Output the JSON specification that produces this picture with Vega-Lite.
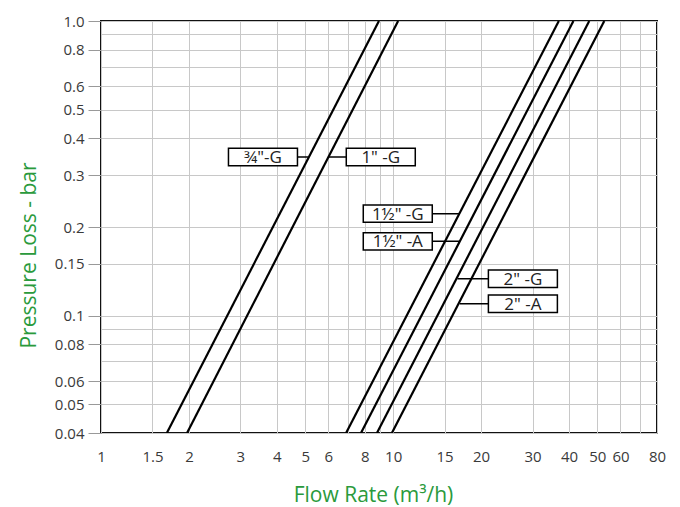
{
  "$schema": "https://vega.github.io/schema/vega-lite/v6.json",
  "autosize": "none",
  "width": 556,
  "height": 412,
  "padding": {"left": 101, "top": 21, "right": 23, "bottom": 74},
  "background": "white",
  "config": {
    "view": {"stroke": "#111111", "strokeWidth": 2},
    "font": "Open Sans"
  },
  "datasets": {
    "curves": [
      {"series": "3/4-G", "flow": 1.68, "loss": 0.04},
      {"series": "3/4-G", "flow": 8.94, "loss": 1.0},
      {"series": "1-G", "flow": 1.97, "loss": 0.04},
      {"series": "1-G", "flow": 10.4, "loss": 1.0},
      {"series": "1.5-G", "flow": 6.9, "loss": 0.04},
      {"series": "1.5-G", "flow": 36.9, "loss": 1.0},
      {"series": "1.5-A", "flow": 7.76, "loss": 0.04},
      {"series": "1.5-A", "flow": 41.4, "loss": 1.0},
      {"series": "2-G", "flow": 8.8, "loss": 0.04},
      {"series": "2-G", "flow": 46.9, "loss": 1.0},
      {"series": "2-A", "flow": 9.9, "loss": 0.04},
      {"series": "2-A", "flow": 52.8, "loss": 1.0}
    ],
    "labels": [
      {"label": "¾\"-G", "flow": 3.584, "loss": 0.3455, "lineFlow": 5.11},
      {"label": "1\" -G", "flow": 9.07, "loss": 0.3455, "lineFlow": 5.99},
      {"label": "1½\" -G", "flow": 10.37, "loss": 0.222, "lineFlow": 16.93},
      {"label": "1½\" -A", "flow": 10.37, "loss": 0.1788, "lineFlow": 16.9},
      {"label": "2\" -G", "flow": 27.8, "loss": 0.1335, "lineFlow": 16.6},
      {"label": "2\" -A", "flow": 27.8, "loss": 0.1098, "lineFlow": 16.9}
    ]
  },
  "layer": [
    {
      "data": {"name": "curves"},
      "mark": {"type": "line", "color": "#000000", "strokeWidth": 2.2, "clip": true},
      "encoding": {
        "x": {
          "field": "flow",
          "type": "quantitative",
          "scale": {"type": "log", "domain": [1, 80], "nice": false, "zero": false},
          "axis": {
            "title": "Flow Rate (m³/h)",
            "values": [1, 1.5, 2, 3, 4, 5, 6, 7, 8, 9, 10, 15, 20, 30, 40, 50, 60, 70, 80],
            "labelExpr": "indexof([7, 9, 70], datum.value) >= 0 ? '' : datum.value + ''",
            "labelFlush": false,
            "labelOverlap": false,
            "labelFontSize": 15,
            "labelColor": "#3a3a3a",
            "labelPadding": 16,
            "ticks": false,
            "domain": false,
            "grid": true,
            "gridColor": "#c8c8c8",
            "gridWidth": 1,
            "titleFontSize": 21,
            "titleFontWeight": "normal",
            "titleColor": "#2a9a3c",
            "titleX": 272,
            "titleY": 68,
            "titleBaseline": "alphabetic"
          }
        },
        "y": {
          "field": "loss",
          "type": "quantitative",
          "scale": {"type": "log", "domain": [0.04, 1], "nice": false, "zero": false},
          "axis": {
            "title": "Pressure Loss - bar",
            "values": [0.04, 0.05, 0.06, 0.07, 0.08, 0.09, 0.1, 0.15, 0.2, 0.3, 0.4, 0.5, 0.6, 0.7, 0.8, 0.9, 1],
            "labelExpr": "datum.value == 1 ? '1.0' : (indexof([0.07, 0.09, 0.7, 0.9], datum.value) >= 0 ? '' : datum.value + '')",
            "labelOverlap": false,
            "labelFontSize": 15,
            "labelColor": "#3a3a3a",
            "labelPadding": 4,
            "tickSize": 13,
            "tickColor": "#999999",
            "tickOpacity": {"condition": {"test": "indexof([0.07, 0.09, 0.7, 0.9], datum.value) >= 0", "value": 0}, "value": 1},
            "domain": false,
            "grid": true,
            "gridColor": "#c8c8c8",
            "gridWidth": 1,
            "titleFontSize": 21,
            "titleFontWeight": "normal",
            "titleColor": "#2a9a3c",
            "titleX": -66,
            "titleY": 234,
            "titleBaseline": "alphabetic"
          }
        },
        "detail": {"field": "series"}
      }
    },
    {
      "data": {"name": "labels"},
      "mark": {"type": "rule", "color": "#000000", "strokeWidth": 1.5},
      "encoding": {
        "x": {"field": "flow", "type": "quantitative"},
        "x2": {"field": "lineFlow"},
        "y": {"field": "loss", "type": "quantitative"}
      }
    },
    {
      "data": {"name": "labels"},
      "mark": {
        "type": "point",
        "shape": "M-1,-0.252L1,-0.252L1,0.252L-1,0.252Z",
        "size": 4761,
        "filled": true,
        "fill": "white",
        "fillOpacity": 1,
        "opacity": 1,
        "stroke": "#000000",
        "strokeWidth": 1.5
      },
      "encoding": {
        "x": {"field": "flow", "type": "quantitative"},
        "y": {"field": "loss", "type": "quantitative"}
      }
    },
    {
      "data": {"name": "labels"},
      "mark": {"type": "text", "fontSize": 17, "color": "#222222", "align": "center", "baseline": "middle", "dy": 1},
      "encoding": {
        "x": {"field": "flow", "type": "quantitative"},
        "y": {"field": "loss", "type": "quantitative"},
        "text": {"field": "label"}
      }
    }
  ]
}
